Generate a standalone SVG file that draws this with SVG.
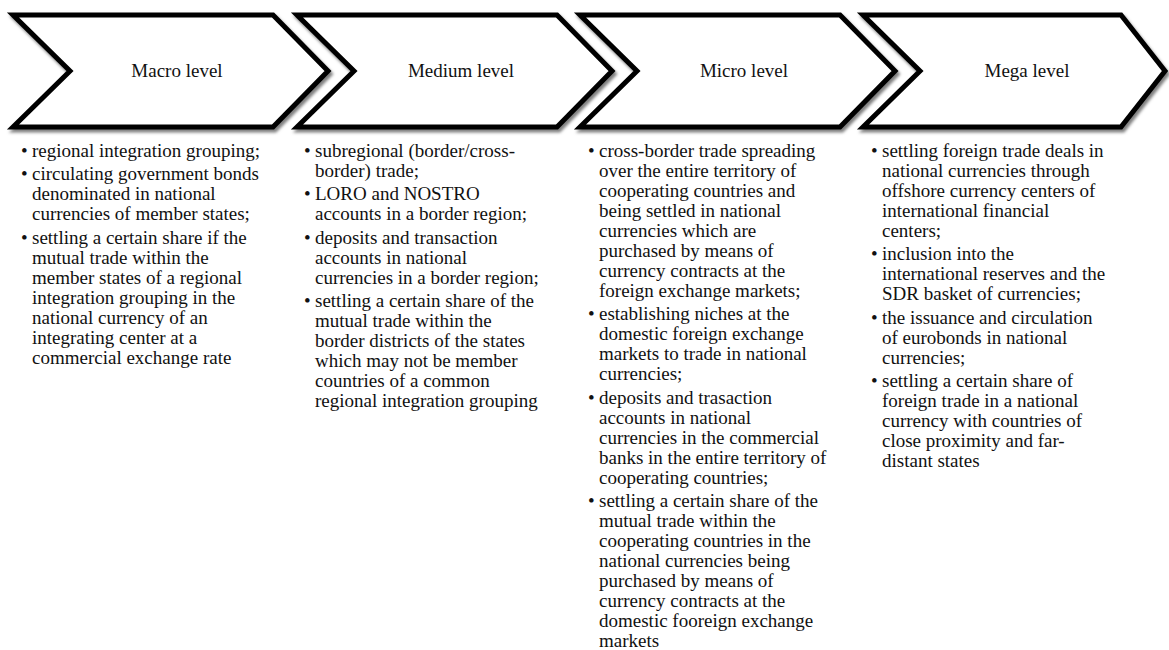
<svg xmlns="http://www.w3.org/2000/svg" width="1169" height="650" viewBox="0 0 1169 650">
<style>
.chev{fill:#fff;stroke:#000;stroke-width:5;stroke-linejoin:miter;filter:url(#sh)}
.lbl{font-family:"Liberation Serif","Times New Roman",serif;font-size:19px;fill:#111;text-anchor:middle}
.body{font-family:"Liberation Serif","Times New Roman",serif;font-size:19px;fill:#111}
</style>
<defs>
<filter id="sh" x="-5%" y="-10%" width="115%" height="130%">
<feDropShadow dx="2" dy="3" stdDeviation="1.6" flood-color="#000" flood-opacity="0.5"/>
</filter>
</defs>
<rect width="1169" height="650" fill="#fff"/>
<g id="connectors"></g>

<g id="macro">
<path class="chev" d="M13,15 L273,15 L328,71 L273,127 L13,127 L70,71 Z"/>
<text class="lbl" x="177" y="77">Macro level</text>
<g class="body">
<text x="21" y="157">•</text><text x="21" y="180.3">•</text><text x="21" y="243.6">•</text>
<text x="32" y="157">regional integration grouping;</text>
<text x="32" y="180.3">circulating government bonds</text>
<text x="32" y="200.3">denominated in national</text>
<text x="32" y="220.3">currencies of member states;</text>
<text x="32" y="243.6">settling a certain share if the</text>
<text x="32" y="263.6">mutual trade within the</text>
<text x="32" y="283.6">member states of a regional</text>
<text x="32" y="303.6">integration grouping in the</text>
<text x="32" y="323.6">national currency of an</text>
<text x="32" y="343.6">integrating center at a</text>
<text x="32" y="363.6">commercial exchange rate</text>
</g>
</g>

<g id="medium">
<path class="chev" d="M297,15 L557,15 L612,71 L557,127 L297,127 L354,71 Z"/>
<text class="lbl" x="461" y="77">Medium level</text>
<g class="body">
<text x="304" y="157">•</text><text x="304" y="200.3">•</text><text x="304" y="243.6">•</text><text x="304" y="306.9">•</text>
<text x="315" y="157">subregional (border/cross-</text>
<text x="315" y="177">border) trade;</text>
<text x="315" y="200.3">LORO and NOSTRO</text>
<text x="315" y="220.3">accounts in a border region;</text>
<text x="315" y="243.6">deposits and transaction</text>
<text x="315" y="263.6">accounts in national</text>
<text x="315" y="283.6">currencies in a border region;</text>
<text x="315" y="306.9">settling a certain share of the</text>
<text x="315" y="326.9">mutual trade within the</text>
<text x="315" y="346.9">border districts of the states</text>
<text x="315" y="366.9">which may not be member</text>
<text x="315" y="386.9">countries of a common</text>
<text x="315" y="406.9">regional integration grouping</text>
</g>
</g>

<g id="micro">
<path class="chev" d="M580,15 L840,15 L895,71 L840,127 L580,127 L637,71 Z"/>
<text class="lbl" x="744" y="77">Micro level</text>
<g class="body">
<text x="588" y="157">•</text><text x="588" y="320.3">•</text><text x="588" y="403.6">•</text><text x="588" y="506.9">•</text>
<text x="599" y="157">cross-border trade spreading</text>
<text x="599" y="177">over the entire territory of</text>
<text x="599" y="197">cooperating countries and</text>
<text x="599" y="217">being settled in national</text>
<text x="599" y="237">currencies which are</text>
<text x="599" y="257">purchased by means of</text>
<text x="599" y="277">currency contracts at the</text>
<text x="599" y="297">foreign exchange markets;</text>
<text x="599" y="320.3">establishing niches at the</text>
<text x="599" y="340.3">domestic foreign exchange</text>
<text x="599" y="360.3">markets to trade in national</text>
<text x="599" y="380.3">currencies;</text>
<text x="599" y="403.6">deposits and trasaction</text>
<text x="599" y="423.6">accounts in national</text>
<text x="599" y="443.6">currencies in the commercial</text>
<text x="599" y="463.6">banks in the entire territory of</text>
<text x="599" y="483.6">cooperating countries;</text>
<text x="599" y="506.9">settling a certain share of the</text>
<text x="599" y="526.9">mutual trade within the</text>
<text x="599" y="546.9">cooperating countries in the</text>
<text x="599" y="566.9">national currencies being</text>
<text x="599" y="586.9">purchased by means of</text>
<text x="599" y="606.9">currency contracts at the</text>
<text x="599" y="626.9">domestic fooreign exchange</text>
<text x="599" y="646.9">markets</text>
</g>
</g>

<g id="mega">
<path class="chev" d="M863,15 L1121,15 L1165,71 L1121,127 L863,127 L920,71 Z"/>
<text class="lbl" x="1027" y="77">Mega level</text>
<g class="body">
<text x="871" y="157">•</text><text x="871" y="260.3">•</text><text x="871" y="323.6">•</text><text x="871" y="386.9">•</text>
<text x="882" y="157">settling foreign trade deals in</text>
<text x="882" y="177">national currencies through</text>
<text x="882" y="197">offshore currency centers of</text>
<text x="882" y="217">international financial</text>
<text x="882" y="237">centers;</text>
<text x="882" y="260.3">inclusion into the</text>
<text x="882" y="280.3">international reserves and the</text>
<text x="882" y="300.3">SDR basket of currencies;</text>
<text x="882" y="323.6">the issuance and circulation</text>
<text x="882" y="343.6">of eurobonds in national</text>
<text x="882" y="363.6">currencies;</text>
<text x="882" y="386.9">settling a certain share of</text>
<text x="882" y="406.9">foreign trade in a national</text>
<text x="882" y="426.9">currency with countries of</text>
<text x="882" y="446.9">close proximity and far-</text>
<text x="882" y="466.9">distant states</text>
</g>
</g>
</svg>
